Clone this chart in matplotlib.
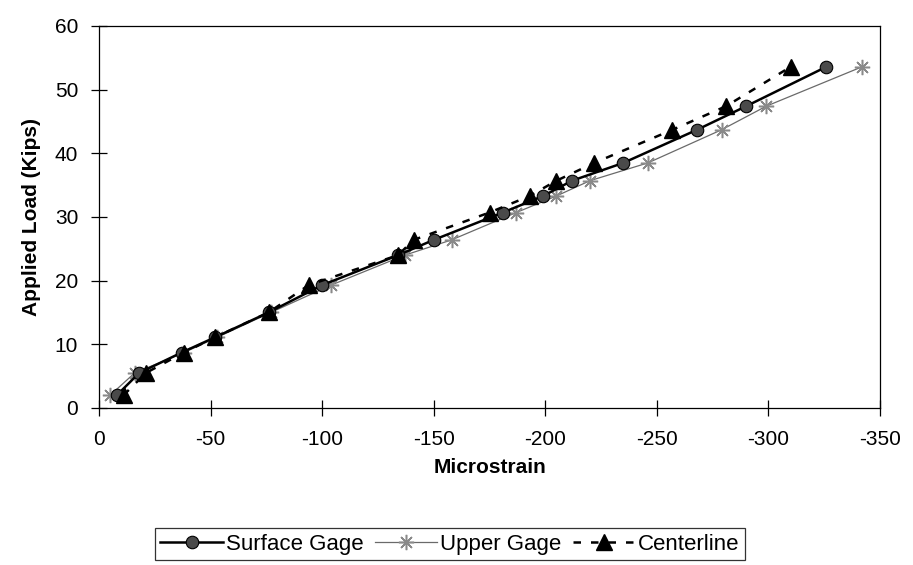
import matplotlib
matplotlib.use("Agg")
import matplotlib.pyplot as plt

# Applied load levels (kips), shared by all three gages
load = [2.0, 5.5, 8.7, 11.1, 15.0, 19.3, 24.0, 26.4, 30.7, 33.3, 35.7, 38.5, 43.7, 47.4, 53.6]

# Measured microstrain for each gage
surface_gage = [-8, -18, -37, -52, -76, -100, -134, -150, -181, -199, -212, -235, -268, -290, -326]
upper_gage = [-5, -16, -38, -53, -77, -104, -137, -158, -187, -205, -220, -246, -279, -299, -342]
centerline = [-11, -21, -38, -52, -76, -94, -134, -141, -175, -193, -205, -222, -257, -281, -310]

x_ticks = [0, -50, -100, -150, -200, -250, -300, -350]
y_ticks = [0, 10, 20, 30, 40, 50, 60]

plt.rcParams["font.family"] = ["Liberation Sans", "DejaVu Sans"]

fig = plt.figure(figsize=(9.13, 5.65), dpi=100)
ax = fig.add_axes([0.1084, 0.2779, 0.8555, 0.6761])

ax.plot(surface_gage, load, color="black", lw=1.8, marker="o", ms=9,
        mfc="#4a4a4a", mec="black", mew=0.8, label="Surface Gage", zorder=3)
ax.plot(upper_gage, load, color="#6a6a6a", lw=0.9, marker=(8, 2, 0), ms=11,
        mec="#8a8a8a", mew=1.1, label="Upper Gage", zorder=2)
ax.plot(centerline, load, color="black", lw=1.8, ls=(0, (3, 4)), marker="^",
        ms=11, mfc="black", mec="black", label="Centerline", zorder=4)

ax.set_xlim(0, -350)
ax.set_ylim(0, 60)
ax.set_xticks(x_ticks)
ax.set_yticks(y_ticks)
ax.set_xticklabels([str(v) for v in x_ticks])
ax.set_yticklabels([str(v) for v in y_ticks])

ax.tick_params(axis="both", direction="inout", length=12, width=0.9,
               labelsize=15, colors="black")
ax.tick_params(axis="x", pad=10)
ax.tick_params(axis="y", pad=9)

for s in ax.spines.values():
    s.set_linewidth(0.9)
    s.set_color("black")

ax.set_xlabel("Microstrain", fontsize=15, fontweight="bold", labelpad=6)
ax.set_ylabel("Applied Load (Kips)", fontsize=15, fontweight="bold", labelpad=10)

leg = fig.legend(loc="center", bbox_to_anchor=(0.493, 0.037), ncol=3,
                 fontsize=16, frameon=True, fancybox=False, edgecolor="black",
                 handlelength=2.8, handletextpad=0.15, columnspacing=0.5,
                 borderpad=0.25)
leg.get_frame().set_linewidth(0.9)

fig.savefig("out.png", dpi=100, facecolor="white")
